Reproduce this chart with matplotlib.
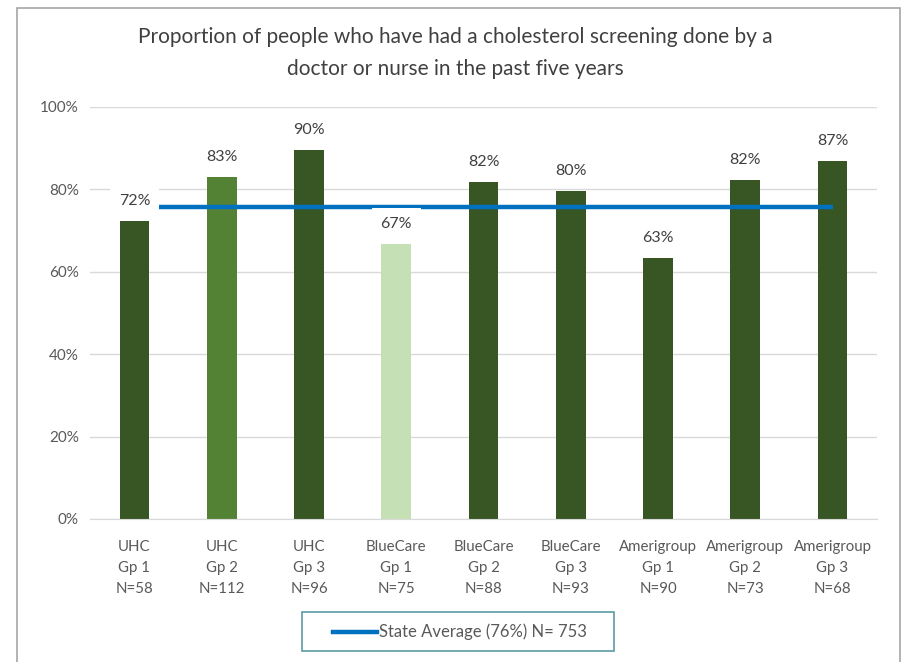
import matplotlib
matplotlib.use("Agg")
import matplotlib.pyplot as plt
from matplotlib.patches import Rectangle
from matplotlib.lines import Line2D

categories = ["UHC\nGp 1\nN=58", "UHC\nGp 2\nN=112", "UHC\nGp 3\nN=96",
              "BlueCare\nGp 1\nN=75", "BlueCare\nGp 2\nN=88", "BlueCare\nGp 3\nN=93",
              "Amerigroup\nGp 1\nN=90", "Amerigroup\nGp 2\nN=73", "Amerigroup\nGp 3\nN=68"]
values = [72.4, 82.9, 89.6, 66.7, 81.8, 79.6, 63.3, 82.2, 86.8]
labels = ["72%", "83%", "90%", "67%", "82%", "80%", "63%", "82%", "87%"]
colors = ["#375623", "#548235", "#375623", "#C5E0B4", "#375623",
          "#375623", "#375623", "#375623", "#375623"]
state_avg = 75.7
legend_label = "State Average (76%) N= 753"
yticks = [0, 20, 40, 60, 80, 100]

plt.rcParams['font.family'] = ['Lato', 'DejaVu Sans']

fig = plt.figure(figsize=(9.05, 6.62), dpi=100)
W, H = 905, 662
ax = fig.add_axes([90 / W, 1 - 519 / H, 787 / W, (519 - 107) / H])

x = list(range(len(categories)))
ax.bar(x, values, width=0.34, color=colors, zorder=2)
ax.set_xlim(-0.51, len(categories) - 0.49)
ax.set_ylim(0, 100)
ax.set_yticks(yticks)
ax.set_yticklabels([f"{t}%" for t in yticks], fontsize=11, color="#595959")
ax.set_xticks(x)
ax.set_xticklabels(categories, fontsize=10.8, color="#595959", linespacing=1.65)
ax.tick_params(axis='y', length=0, pad=8)
ax.tick_params(axis='x', length=0, pad=15)
ax.grid(axis='y', color="#D9D9D9", linewidth=1, zorder=0)
for s in ["top", "right", "left"]:
    ax.spines[s].set_visible(False)
ax.spines["bottom"].set_color("#D9D9D9")

ax.plot([x[0], x[-1]], [state_avg, state_avg], color="#0070C0",
        linewidth=3.2, zorder=3, solid_capstyle='butt')

for xi, v, lab in zip(x, values, labels):
    ax.text(xi, v + 3.2, lab, ha="center", va="bottom", fontsize=11.5,
            color="#404040", zorder=4,
            bbox=dict(facecolor="white", edgecolor="none", boxstyle="square,pad=0.55"))

fig.text(455 / W, 1 - 53 / H,
         "Proportion of people who have had a cholesterol screening done by a\ndoctor or nurse in the past five years",
         ha="center", va="center", fontsize=15, color="#404040", linespacing=1.75)

# legend box
fig.patches.append(Rectangle((302 / W, 1 - 651 / H), 312 / W, 39 / H,
                             transform=fig.transFigure, facecolor="white",
                             edgecolor="#5B9BA5", linewidth=1.2))
fig.lines.append(Line2D([333 / W, 377 / W], [1 - 632 / H, 1 - 632 / H],
                        transform=fig.transFigure, color="#0070C0", linewidth=3.2))
fig.text(379 / W, 1 - 632 / H, legend_label, ha="left", va="center",
         fontsize=12, color="#595959")

# outer chart border
fig.patches.append(Rectangle((17 / W, -0.01), 883 / W, 1 - 8 / H + 0.01,
                             transform=fig.transFigure, facecolor="none",
                             edgecolor="#A6A6A6", linewidth=1.2))

fig.savefig("out.png", dpi=100)
